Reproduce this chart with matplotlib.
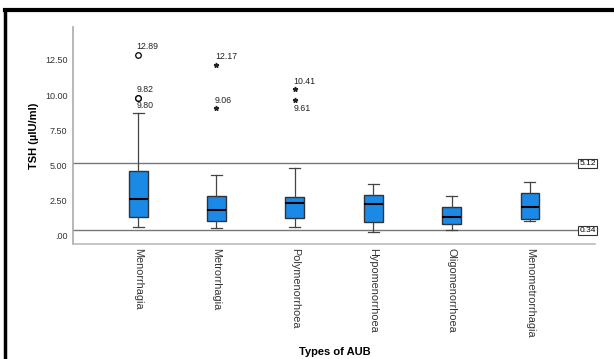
import matplotlib.pyplot as plt

plt.rcParams['font.family'] = ['Liberation Sans', 'DejaVu Sans']

# types of AUB and box-plot summaries of TSH
categories = ['Menorrhagia', 'Metrorrhagia', 'Polymenorrhoea',
              'Hypomenorrhoea', 'Oligomenorrhoea', 'Menometrorrhagia']
whislo = [0.59, 0.48, 0.55, 0.26, 0.40, 0.98]
q1 = [1.29, 1.00, 1.24, 0.93, 0.83, 1.17]
med = [2.59, 1.76, 2.26, 2.19, 1.31, 2.02]
q3 = [4.57, 2.76, 2.69, 2.83, 2.02, 2.98]
whishi = [8.70, 4.31, 4.78, 3.62, 2.76, 3.79]

# outliers: (category index, value)
outliers_circle = [(0, 12.89), (0, 9.82), (0, 9.80)]
outliers_star = [(1, 12.17), (1, 9.06), (2, 10.41), (2, 9.61)]

ref_lines = [5.12, 0.34]
yticks = [0, 2.5, 5, 7.5, 10, 12.5]
ytick_labels = ['.00', '2.50', '5.00', '7.50', '10.00', '12.50']

fig = plt.figure(figsize=(6.14, 3.59), dpi=100)
ax = fig.add_axes([0.119, 0.320, 0.850, 0.605])

stats = []
for i in range(len(categories)):
    stats.append({'whislo': whislo[i], 'q1': q1[i], 'med': med[i],
                  'q3': q3[i], 'whishi': whishi[i], 'fliers': []})

ax.bxp(stats, positions=range(len(categories)), widths=0.24,
       patch_artist=True, showfliers=False,
       boxprops=dict(facecolor='#1a8ae6', edgecolor='#333333', linewidth=1),
       medianprops=dict(color='black', linewidth=1.5),
       whiskerprops=dict(color='#444444', linewidth=0.9),
       capprops=dict(color='#444444', linewidth=0.9),
       capwidths=0.14, zorder=3)

# outliers and their labels
for i, v in outliers_circle:
    ax.plot(i, v, marker='o', markersize=4, markerfacecolor='white',
            markeredgecolor='black', markeredgewidth=0.9, linestyle='none', zorder=4)
for i, v in outliers_star:
    ax.plot(i, v, marker='*', markersize=3.5, color='#222222', linestyle='none', zorder=4)

label_offsets = {12.89: 0.55, 9.82: 0.55, 9.80: -0.55,
                 12.17: 0.55, 9.06: 0.55, 10.41: 0.55, 9.61: -0.55}
for i, v in outliers_circle + outliers_star:
    ax.text(i - 0.02, v + label_offsets[v], '%.2f' % v, fontsize=6.3,
            va='center', ha='left', color='#222222')

xmin, xmax = -0.83, 5.83
# reference lines with labels at the right end
for r in ref_lines:
    ax.plot([xmin, xmax - 0.2], [r, r], color='#777777', linewidth=1, zorder=2)
    ax.text(xmax - 0.2, r, '%.2f' % r, fontsize=6, va='center', ha='left',
            bbox=dict(boxstyle='square,pad=0.15', facecolor='white',
                      edgecolor='#333333', linewidth=0.8), zorder=5)

ax.set_xlim(xmin, xmax)
ax.set_ylim(-0.64, 14.86)
ax.set_yticks(yticks)
ax.set_yticklabels(ytick_labels, fontsize=6.5, color='#333333')
ax.set_xticks(range(len(categories)))
ax.set_xticklabels(categories, rotation=-90, fontsize=7.8, color='#333333')
ax.tick_params(length=0, pad=4)
ax.tick_params(axis='x', pad=3)

for s in ['top', 'right']:
    ax.spines[s].set_visible(False)
ax.spines['left'].set_color('#aaaaaa')
ax.spines['bottom'].set_color('#bbbbbb')
ax.spines['left'].set_linewidth(1.2)
ax.spines['bottom'].set_linewidth(1.2)

ax.set_ylabel('TSH (µIU/ml)', fontsize=8, fontweight='bold', labelpad=4)
fig.text(0.545, 0.012, 'Types of AUB', fontsize=8, fontweight='bold', ha='center')

# black frame on top and left
fig.add_artist(plt.Line2D([0.008, 0.008], [0, 0.972], color='black', linewidth=2.5,
                          transform=fig.transFigure))
fig.add_artist(plt.Line2D([0.008, 1], [0.972, 0.972], color='black', linewidth=3,
                          transform=fig.transFigure))

fig.savefig('out.png', dpi=100)
